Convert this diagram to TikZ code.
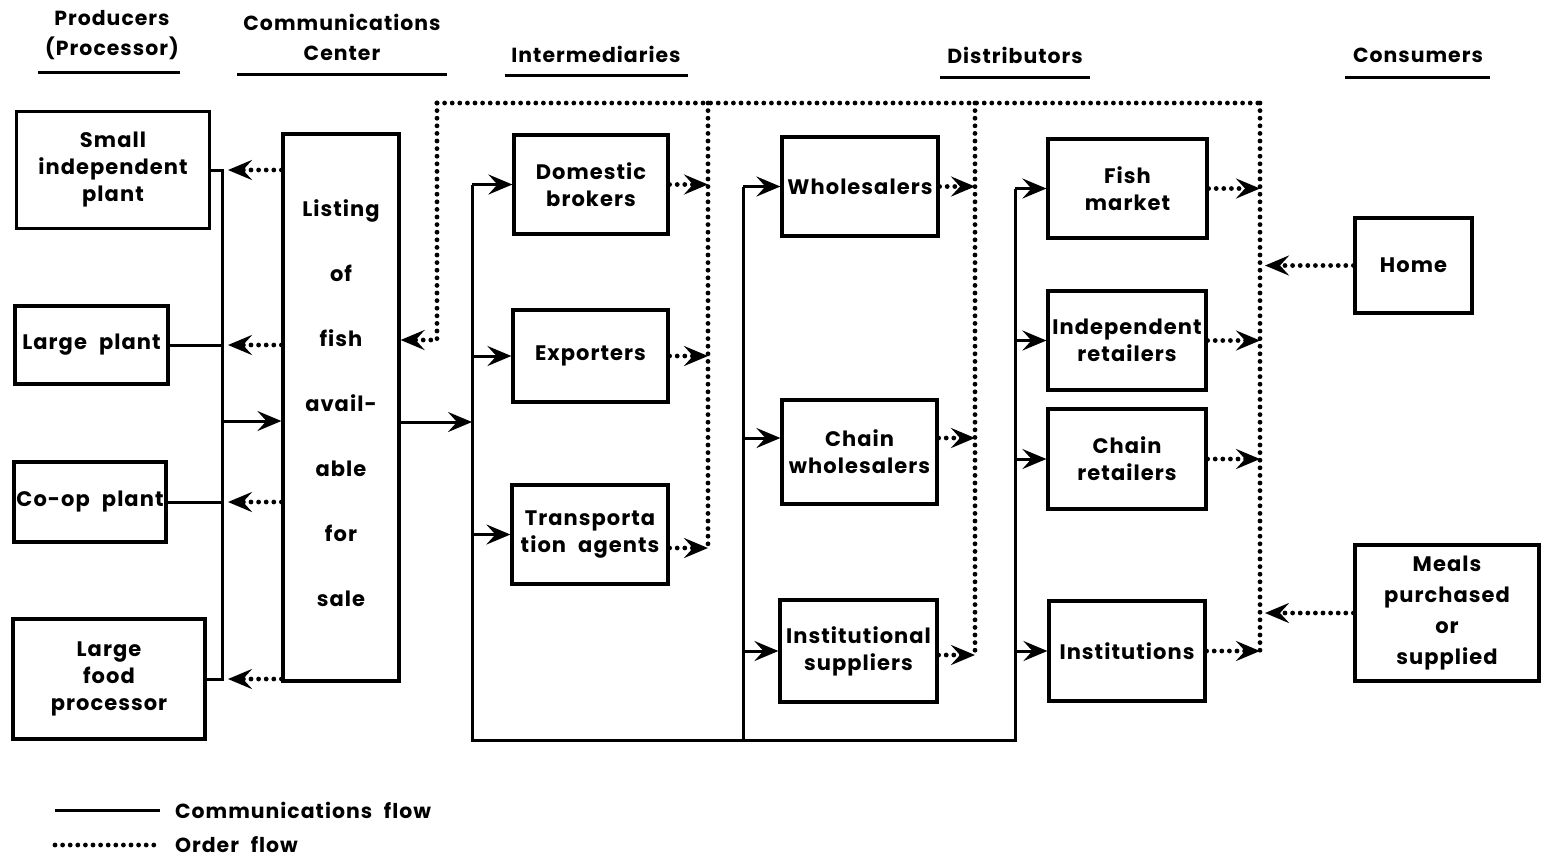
\documentclass[tikz,border=0pt]{standalone}
\usepackage{fontspec}
\setmainfont{Poppins}[WordSpace=2.2,LetterSpace=5]
\usetikzlibrary{arrows.meta}
\tikzset{
	flowbox/.style={rectangle, draw=black, line width=1.6pt, align=center, inner sep=1pt, font=\bfseries\fontsize{10.5}{13.5}\selectfont},
	commflow/.style={line width=1.5pt},
	orderflow/.style={line width=2.4pt, line cap=round, dash pattern=on 0pt off 3.8pt},
	flowtip/.style={-{Stealth[length=12pt,width=10pt,inset=4.5pt]}},
	headtxt/.style={font=\bfseries\fontsize{10.2}{15}\selectfont, align=center}
}

\begin{document}
\begin{tikzpicture}[x=0.5pt,y=-0.5pt]
	\useasboundingbox (0,0) rectangle (1541,859);
	
	% headings
	\node[headtxt] (hdprod) at (112,35) {Producers\\(Processor)};
	\node[headtxt] (hdcomm) at (342,37) {Communications\\Center};
	\node[headtxt] (hdinter) at (596,54) {Intermediaries};
	\node[headtxt] (hddist) at (1015,55) {Distributors};
	\node[headtxt] (hdcons) at (1418,55) {Consumers};
	\draw[commflow] (38,72) -- (180,72);
	\draw[commflow] (237,74) -- (447,74);
	\draw[commflow] (505,75) -- (688,75);
	\draw[commflow] (940,77) -- (1090,77);
	\draw[commflow] (1345,77) -- (1490,77);
	
	% producers
	\node[flowbox, minimum width=96.5pt, minimum height=58.5pt] (smallplant) at (113,170) {Small\\independent\\plant};
	\node[flowbox, minimum width=76.5pt, minimum height=39pt] (largeplant) at (91.5,345) {Large plant};
	\node[flowbox, minimum width=76pt, minimum height=40pt] (coopplant) at (90,502) {Co-op plant};
	\node[flowbox, minimum width=96pt, minimum height=60pt] (foodproc) at (109,679) {Large\\food\\processor};
	
	% communications center
	\node[flowbox, minimum width=58pt, minimum height=273.5pt, font=\bfseries\fontsize{10.5}{32.5}\selectfont] (listing) at (341,407.5) {};
	\node[font=\bfseries\fontsize{10.5}{32.5}\selectfont, align=center] (listtxt) at (341,403) {Listing\\of\\fish\\avail-\\able\\for\\sale};
	
	% intermediaries
	\node[flowbox, minimum width=77pt, minimum height=49.5pt] (brokers) at (591,184.5) {Domestic\\brokers};
	\node[flowbox, minimum width=77.5pt, minimum height=46pt] (exporters) at (590.5,356) {Exporters};
	\node[flowbox, minimum width=78pt, minimum height=49.5pt] (transport) at (590,534.5) {Transporta\\tion agents};
	
	% distributors
	\node[flowbox, minimum width=78pt, minimum height=49.5pt] (wholesalers) at (860,186.5) {Wholesalers};
	\node[flowbox, minimum width=77.5pt, minimum height=52pt] (chainwhole) at (859.5,452) {Chain\\wholesalers};
	\node[flowbox, minimum width=78.5pt, minimum height=51pt] (instsupp) at (858.5,651) {Institutional\\suppliers};
	\node[flowbox, minimum width=79.5pt, minimum height=49.5pt] (fishmarket) at (1127.5,188.5) {Fish\\market};
	\node[flowbox, minimum width=79pt, minimum height=49.5pt] (indepret) at (1127,340.5) {Independent\\retailers};
	\node[flowbox, minimum width=79pt, minimum height=50pt] (chainret) at (1127,459) {Chain\\retailers};
	\node[flowbox, minimum width=78pt, minimum height=50pt] (institutions) at (1127,651) {Institutions};
	
	% consumers
	\node[flowbox, minimum width=58.5pt, minimum height=47.5pt] (home) at (1413.5,265.5) {Home};
	\node[flowbox, minimum width=92pt, minimum height=68pt, font=\bfseries\fontsize{10.5}{15.5}\selectfont] (meals) at (1447,613) {Meals\\purchased\\or\\supplied};
	
	% communications flow
	\coordinate (busP) at (222,170);
	\coordinate (busPend) at (222,679);
	\coordinate (busPin) at (222,421);
	\draw[commflow] (smallplant.east) -- (busP) -- (busPend) -- (foodproc.east);
	\draw[commflow] (largeplant.east) -- (largeplant.east -| busP);
	\draw[commflow] (coopplant.east) -- (coopplant.east -| busP);
	\draw[commflow,flowtip] (busPin) -- (busPin -| listing.west);
	
	\coordinate (busI) at (472,740);
	\coordinate (busW) at (743,740);
	\coordinate (busR) at (1015,740);
	\draw[commflow] (busI |- brokers.west) -- (busI) -- (busR) -- (busR |- fishmarket.west);
	\draw[commflow] (busW |- wholesalers.west) -- (busW);
	\draw[commflow,flowtip] (listing.east |- 0,422) -- (busI |- 0,422);
	\foreach \b in {brokers,exporters,transport}
		\draw[commflow,flowtip] (busI |- \b.west) -- (\b.west);
	\foreach \b in {wholesalers,instsupp}
		\draw[commflow,flowtip] (busW |- \b.west) -- (\b.west);
	\draw[commflow,flowtip] (busW |- 0,438) -- (chainwhole.west |- 0,438);
	\foreach \b in {fishmarket,indepret,chainret,institutions}
		\draw[commflow,flowtip] (busR |- \b.west) -- (\b.west);
	
	% order flow
	\coordinate (ordP) at (228,0);
	\foreach \p in {smallplant,largeplant,coopplant,foodproc}
		\draw[orderflow,flowtip] (listing.west |- \p.east) -- (ordP |- \p.east);
	
	\coordinate (ordA) at (437,103);
	\coordinate (ordB) at (708,103);
	\coordinate (ordC) at (975,103);
	\coordinate (ordD) at (1260,103);
	\coordinate (ordE) at (1265,0);
	\draw[orderflow] (ordA) -- (ordD);
	\draw[orderflow,flowtip] (ordA) -- (ordA |- 0,340) -- (listing.east |- 0,340);
	\draw[orderflow] (ordB) -- (ordB |- 0,548);
	\draw[orderflow] (ordC) -- (ordC |- 0,655);
	\draw[orderflow] (ordD) -- (ordD |- 0,655);
	\foreach \b in {brokers,exporters}
		\draw[orderflow,flowtip] (\b.east) -- (\b.east -| ordB);
	\draw[orderflow,flowtip] (transport.east |- 0,548) -- (ordB |- 0,548);
	\draw[orderflow,flowtip] (wholesalers.east) -- (wholesalers.east -| ordC);
	\draw[orderflow,flowtip] (chainwhole.east |- 0,438) -- (ordC |- 0,438);
	\draw[orderflow,flowtip] (instsupp.east |- 0,655) -- (ordC |- 0,655);
	\foreach \b in {fishmarket,indepret,chainret,institutions}
		\draw[orderflow,flowtip] (\b.east) -- (\b.east -| ordD);
	\foreach \b in {home,meals}
		\draw[orderflow,flowtip] (\b.west) -- (\b.west -| ordE);
	
	% legend
	\coordinate (legA) at (55,810);
	\coordinate (legB) at (160,810);
	\coordinate (legC) at (55,845);
	\coordinate (legD) at (160,845);
	\draw[commflow] (legA) -- (legB);
	\draw[orderflow] (legC) -- (legD);
	\node[headtxt, anchor=west] (legcomm) at (168,810) {Communications flow};
	\node[headtxt, anchor=west] (legorder) at (168,845) {Order flow};
\end{tikzpicture}
\end{document}
